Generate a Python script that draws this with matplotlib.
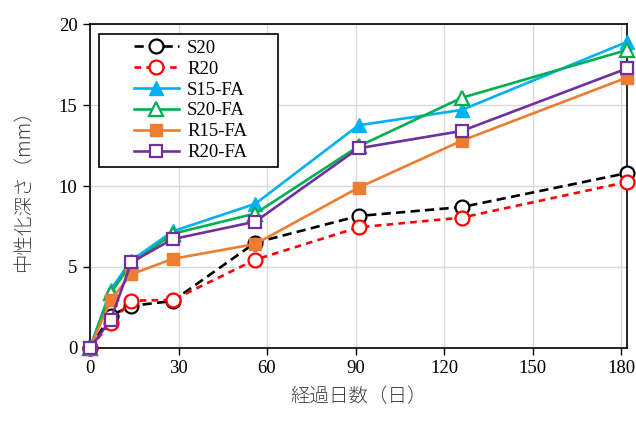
import matplotlib
matplotlib.use("Agg")
import matplotlib.pyplot as plt
from matplotlib.legend_handler import HandlerLine2D

SERIF = ["Liberation Serif", "DejaVu Serif"]
CJK = ["Noto Sans CJK JP", "DejaVu Sans"]

days = [0, 7, 14, 28, 56, 91, 126, 182]
s20 = [0, 2.0, 2.6, 2.9, 6.5, 8.15, 8.7, 10.8]
r20 = [0, 1.55, 2.92, 2.96, 5.45, 7.45, 8.05, 10.25]
s15_fa = [0, 3.6, 5.4, 7.2, 8.9, 13.75, 14.7, 18.9]
s20_fa = [0, 3.4, 5.2, 7.05, 8.3, 12.45, 15.45, 18.4]
r15_fa = [0, 2.96, 4.55, 5.5, 6.42, 9.9, 12.8, 16.7]
r20_fa = [0, 1.73, 5.29, 6.72, 7.8, 12.33, 13.4, 17.26]

plt.rcParams["font.family"] = SERIF


class ShiftedLine(HandlerLine2D):
    # leaves an empty gap before the legend line, like the Excel legend
    def create_artists(self, legend, orig_handle, xdescent, ydescent,
                       width, height, fontsize, trans):
        s = 1.55 * fontsize
        return super().create_artists(legend, orig_handle, xdescent - s, ydescent,
                                      width - s, height, fontsize, trans)


fig = plt.figure(figsize=(6.36, 4.22), dpi=100)
ax = fig.add_axes([0.1415, 0.1754, 0.8445, 0.7676])

lw = 1.9
ms = 10
mew = 1.6
common = dict(linewidth=lw, markersize=ms, zorder=3, clip_on=False)
ax.plot(days, s20, color="black", linestyle=(0, (3.5, 2)), marker="o",
        markerfacecolor="white", markeredgecolor="black", markeredgewidth=mew,
        label="S20", **common)
ax.plot(days, r20, color="#ff0000", linestyle=(0, (2.5, 2)), marker="o",
        markerfacecolor="white", markeredgecolor="#ff0000", markeredgewidth=mew,
        label="R20", **common)
ax.plot(days, s15_fa, color="#00b0f0", marker="^",
        markerfacecolor="#00b0f0", markeredgecolor="#00b0f0",
        label="S15-FA", **common)
ax.plot(days, s20_fa, color="#00b050", marker="^",
        markerfacecolor="white", markeredgecolor="#00b050", markeredgewidth=mew,
        label="S20-FA", **common)
ax.plot(days, r15_fa, color="#ed7d31", marker="s",
        markerfacecolor="#ed7d31", markeredgecolor="#ed7d31",
        label="R15-FA", **{**common, "markersize": ms - 1})
ax.plot(days, r20_fa, color="#7030a0", marker="s",
        markerfacecolor="white", markeredgecolor="#7030a0", markeredgewidth=mew,
        label="R20-FA", **{**common, "markersize": ms - 1})

ax.set_xlim(0, 182)
ax.set_ylim(0, 20)
ax.set_xticks(range(0, 181, 30))
ax.set_yticks(range(0, 21, 5))
ax.grid(True, color="#d9d9d9", linewidth=1.0, zorder=0)
ax.set_axisbelow(True)
for s in ax.spines.values():
    s.set_color("black")
    s.set_linewidth(1.2)
ax.tick_params(direction="out", length=5, width=1.0, labelsize=13.5,
               colors="black", pad=4)

ax.set_xlabel("経過日数（日）", family=CJK, fontsize=14, color="#404040",
              labelpad=6, fontweight="light")
ax.set_ylabel("中性化深さ（mm）", family=CJK, fontsize=14, color="#404040",
              labelpad=18, fontweight="light")

leg = ax.legend(loc="upper left", bbox_to_anchor=(0.017, 0.55, 0.333, 0.419),
                mode="expand", borderaxespad=0, fontsize=13.5, handlelength=3.97,
                frameon=True, fancybox=False, edgecolor="black", framealpha=1,
                labelspacing=0.2, handletextpad=0.43, borderpad=0.3,
                handler_map={plt.Line2D: ShiftedLine()})
leg.get_frame().set_linewidth(1.2)

fig.savefig("out.png", dpi=100)
